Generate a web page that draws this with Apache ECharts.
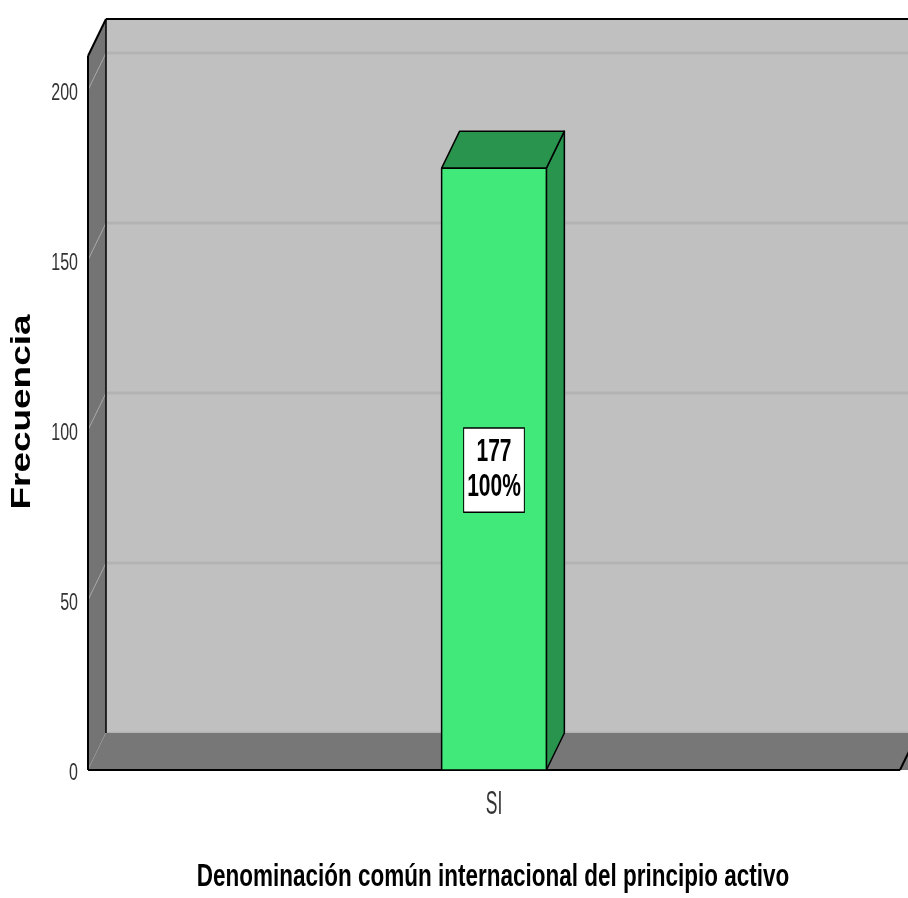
<!DOCTYPE html>
<html>
<head>
<meta charset="utf-8">
<script src="https://cdn.jsdelivr.net/npm/echarts@6/dist/echarts.min.js"></script>
<style>
html,body{margin:0;padding:0;background:#fff;}
#chart{width:908px;height:898px;}
</style>
</head>
<body>
<div id="chart"></div>
<script>
// ---- data ----
const categories = ['SI'];
const counts = [177];
const percents = ['100%'];
const yTicks = [0, 50, 100, 150, 200];
const yTickLabels = ['0', '50', '100', '150', '200'];
const yAxisTitle = 'Frecuencia';
const xAxisTitle = 'Denominación común internacional del principio activo';

// ---- style constants ----
const DX = 18, DY = -37;          // 3D depth offset in px
const WALL_MAX = 210;              // wall height in axis units
const BAR_RATIO = 0.129;           // bar width / category band
const SANS = "'Liberation Sans', Arial, sans-serif";

const chart = echarts.init(document.getElementById('chart'), null, {renderer: 'canvas'});

function renderWalls(params, api) {
  const cs = params.coordSys;
  const xL = cs.x, xR = cs.x + cs.width;
  const y0 = api.coord([0, 0])[1];
  const yT = api.coord([0, WALL_MAX])[1];
  const ext = 30;
  const ch = [];
  // back wall
  ch.push({type: 'polygon', shape: {points: [[xL + DX, yT + DY], [xR + DX + ext, yT + DY], [xR + DX + ext, y0 + DY], [xL + DX, y0 + DY]]},
    style: {fill: '#c0c0c0'}});
  yTicks.forEach(v => {
    const y = api.coord([0, v])[1];
    ch.push({type: 'line', shape: {x1: xL + DX, y1: y + DY, x2: xR + DX + ext, y2: y + DY},
      style: {stroke: '#b3b3b3', lineWidth: 3}});
  });
  // left side wall
  ch.push({type: 'polygon', shape: {points: [[xL, yT], [xL + DX, yT + DY], [xL + DX, y0 + DY], [xL, y0]]},
    style: {fill: '#747474'}});
  yTicks.forEach(v => {
    const y = api.coord([0, v])[1];
    ch.push({type: 'line', shape: {x1: xL, y1: y, x2: xL + DX, y2: y + DY},
      style: {stroke: '#a9a9a9', lineWidth: 1}});
  });
  // floor
  ch.push({type: 'polygon', shape: {points: [[xL, y0], [xL + DX, y0 + DY], [xR + DX + ext, y0 + DY], [xR + ext, y0]]},
    style: {fill: '#777777'}});
  // outlines
  const ln = (x1, y1, x2, y2, w) => ch.push({type: 'line', shape: {x1, y1, x2, y2}, style: {stroke: '#000', lineWidth: w || 1.5}});
  ln(xL + DX, yT + DY, xR + DX + ext, yT + DY, 2);
  ln(xL, yT, xL + DX, yT + DY, 2);
  ln(xL, yT, xL, y0, 2);
  ln(xL + DX, yT + DY, xL + DX, y0 + DY, 1.5);
  ln(xL, y0, xR, y0, 2);
  ln(xR, y0, xR + DX, y0 + DY, 2);
  // y tick labels
  yTicks.forEach((v, i) => {
    const y = api.coord([0, v])[1];
    ch.push({type: 'text', x: xL - 10, y: y + 4, scaleY: 1.45,
      style: {x: 0, y: 0, text: yTickLabels[i], font: '16px ' + SANS, fill: '#333',
        align: 'right', verticalAlign: 'middle'}});
  });
  return {type: 'group', children: ch};
}

function renderBar(params, api) {
  const idx = params.dataIndex;
  const xv = api.value(0), v = api.value(1);
  const top = api.coord([xv, v]);
  const base = api.coord([xv, 0]);
  const w = api.size([1, 0])[0] * BAR_RATIO;
  const xl = top[0] - w / 2, xr = top[0] + w / 2;
  const st = {stroke: '#000', lineWidth: 1.5, lineJoin: 'round'};
  return {
    type: 'group',
    children: [
      {type: 'polygon', shape: {points: [[xr, top[1]], [xr + DX, top[1] + DY], [xr + DX, base[1] + DY], [xr, base[1]]]},
        style: Object.assign({fill: '#28944d'}, st)},
      {type: 'polygon', shape: {points: [[xl, top[1]], [xr, top[1]], [xr + DX, top[1] + DY], [xl + DX, top[1] + DY]]},
        style: Object.assign({fill: '#28944d'}, st)},
      {type: 'rect', shape: {x: xl, y: top[1], width: w, height: base[1] - top[1]},
        style: Object.assign({fill: '#41e87a'}, st)},
      {type: 'text', x: top[0], y: (top[1] + base[1]) / 2 + 1, scaleY: 1.45,
        style: {
          x: 0, y: 0,
          text: v + '\n' + percents[idx],
          font: 'bold 21px ' + SANS,
          lineHeight: 24,
          align: 'center', verticalAlign: 'middle',
          fill: '#000',
          backgroundColor: '#fff',
          borderColor: '#000', borderWidth: 1,
          padding: [5, 3, 4, 3]
        }},
      // category label
      {type: 'text', x: top[0], y: base[1] + 35, scaleY: 1.9,
        style: {x: 0, y: 0, text: categories[idx], font: '17.5px ' + SANS, fill: '#333',
          align: 'center', verticalAlign: 'middle'}}
    ]
  };
}

const option = {
  animation: false,
  backgroundColor: '#fff',
  grid: {left: 88, right: 8, top: 90, bottom: 128, containLabel: false},
  xAxis: {
    type: 'category',
    data: categories,
    axisLine: {show: false},
    axisTick: {show: false},
    axisLabel: {show: false}
  },
  yAxis: {
    type: 'value',
    min: 0, max: 200, interval: 50,
    axisLine: {show: false},
    axisTick: {show: false},
    splitLine: {show: false},
    axisLabel: {show: false}
  },
  series: [
    {type: 'custom', renderItem: renderWalls, data: [[0, 0]], encode: {x: 0, y: 1}, silent: true, z: 1},
    {type: 'custom', renderItem: renderBar, data: counts.map((c, i) => [i, c]), encode: {x: 0, y: 1}, z: 2}
  ],
  graphic: [
    {type: 'text', x: 22, y: 412, rotation: Math.PI / 2, scaleX: 1.32,
      style: {text: yAxisTitle, font: 'bold 28px ' + SANS, fill: '#000',
        align: 'center', verticalAlign: 'middle'}},
    {type: 'text', x: 493, y: 878, scaleY: 1.36,
      style: {text: xAxisTitle, font: 'bold 22.5px ' + SANS, fill: '#000',
        align: 'center', verticalAlign: 'middle'}}
  ]
};
chart.setOption(option);
</script>
</body>
</html>
